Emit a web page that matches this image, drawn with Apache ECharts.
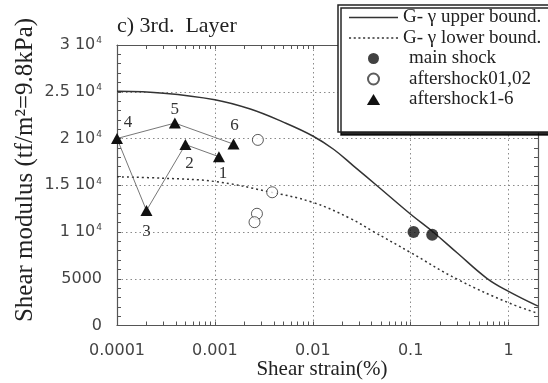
<!DOCTYPE html>
<html><head><meta charset="utf-8">
<script src="https://cdn.jsdelivr.net/npm/echarts@6/dist/echarts.min.js"></script>
<style>html,body{margin:0;padding:0;background:#fff}#c{width:548px;height:383px}</style>
</head><body><div id="c"></div>
<script>
// ---- data ----
const xTickValues = [0.0001, 0.001, 0.01, 0.1, 1];
const xTickLabels = ['0.0001', '0.001', '0.01', '0.1', '1'];
const yTickValues = [0, 5000, 10000, 15000, 20000, 25000, 30000];
const yTickLabels = ['0', '5000', '1 10^4', '1.5 10^4', '2 10^4', '2.5 10^4', '3 10^4'];

const upperStrain = [0.0001, 0.0003, 0.001, 0.0023, 0.005, 0.01, 0.0163, 0.0262, 0.0454, 0.1, 0.172, 0.3, 0.6, 1, 2];
const upperG      = [25050, 24850, 24150, 23150, 21750, 20270, 18850, 17050, 14950, 11900, 9950, 7750, 5050, 3650, 2070];

const lowerStrain = [0.0001, 0.0003, 0.001, 0.0034, 0.01, 0.0242, 0.04, 0.1, 0.3, 1, 2];
const lowerG      = [15900, 15750, 15400, 14350, 13170, 11450, 10150, 7800, 4940, 2430, 1300];

const mainStrain = [0.107, 0.166];
const mainG      = [10000, 9700];

const after0102Strain = [0.00275, 0.00385, 0.00269, 0.00254];
const after0102G      = [19850, 14250, 11950, 11050];

const after16Strain = [0.0011, 0.0005, 0.0002, 0.0001, 0.00039, 0.00155];
const after16G      = [18050, 19350, 12300, 20000, 21650, 19400];
const after16Labels = ['1', '2', '3', '4', '5', '6'];

const nameUpper = 'G- \u03b3 upper bound.';
const nameLower = 'G- \u03b3 lower bound.';
const nameMain = 'main shock';
const nameA0102 = 'aftershock01,02';
const nameA16 = 'aftershock1-6';

// ---- styling helpers (not data) ----
const labelOffsets = [[4, 17], [4, 19], [0, 21], [11, -16], [0, -14], [1, -19]];
const xMinMax = [0.0001, 2];
const xTickMarks = [];
[0.0001, 0.001, 0.01, 0.1, 1].forEach(d => {
  for (let m = 1; m <= 9; m++) {
    const v = parseFloat((m * d).toPrecision(6));
    if (v <= 2) xTickMarks.push(v);
  }
});
const solidIcon = 'path://M0,0h49v1.5h-49z';
let dotted = 'path://';
for (let x = 0; x < 49; x += 4.5) dotted += 'M' + x + ',0h2v1.5h-2z';
const triIcon = 'path://M6,0L12,10L0,10Z';

const zip = (a, b) => a.map((v, i) => [v, b[i]]);
const axisColor = '#555';
const gridLine = { show: true, lineStyle: { color: '#8a8a8a', type: [1.5, 3], width: 1 } };
const tickFont = { fontFamily: 'DejaVu Sans', fontSize: 16, color: '#444' };
const serif = 'Liberation Serif';

function xLabel(v) {
  for (let i = 0; i < xTickValues.length; i++) {
    if (Math.abs(Math.log10(v) - Math.log10(xTickValues[i])) < 1e-6) return xTickLabels[i];
  }
  return '';
}
function yLabel(v) {
  const i = yTickValues.indexOf(v);
  if (i < 0) return '';
  const s = yTickLabels[i];
  const p = s.indexOf('^');
  if (p < 0) return '{n|' + s + '}';
  return '{n|' + s.slice(0, p) + '}{s|' + s.slice(p + 1) + '}';
}

const chart = echarts.init(document.getElementById('c'), null, { renderer: 'canvas' });
chart.setOption({
  animation: false,
  backgroundColor: '#fff',
  grid: { left: 117, right: 10, top: 45, bottom: 57.5 },
  xAxis: [
    {
      type: 'log', logBase: 10, min: xMinMax[0], max: xMinMax[1], position: 'bottom',
      axisLine: { show: true, lineStyle: { color: axisColor, width: 1.2 } },
      axisTick: { show: false },
      axisLabel: Object.assign({ margin: 17, formatter: xLabel }, tickFont),
      splitLine: gridLine, minorTick: { show: false }
    },
    {
      type: 'log', logBase: 10, min: xMinMax[0], max: xMinMax[1], position: 'bottom',
      axisLine: { show: false },
      axisTick: { show: true, inside: true, length: 4, customValues: xTickMarks, lineStyle: { color: axisColor } },
      axisLabel: { show: false }, splitLine: { show: false }
    },
    {
      type: 'log', logBase: 10, min: xMinMax[0], max: xMinMax[1], position: 'top',
      axisLine: { show: true, lineStyle: { color: axisColor, width: 1.2 } },
      axisTick: { show: true, inside: true, length: 4, customValues: xTickMarks, lineStyle: { color: axisColor } },
      axisLabel: { show: false }, splitLine: { show: false }
    }
  ],
  yAxis: [
    {
      type: 'value', min: 0, max: 30000, interval: 5000, position: 'left',
      axisLine: { show: true, lineStyle: { color: axisColor, width: 1.2 } },
      axisTick: { show: true, inside: true, length: 4, lineStyle: { color: axisColor } },
      minorTick: { show: true, splitNumber: 5, length: 4, lineStyle: { color: axisColor } },
      axisLabel: {
        margin: 15, formatter: yLabel,
        rich: {
          n: { fontFamily: 'DejaVu Sans', fontSize: 16, color: '#444' },
          s: { fontFamily: 'DejaVu Sans', fontSize: 9, color: '#444', verticalAlign: 'top', padding: [0, 0, 8, 1] }
        }
      },
      splitLine: gridLine
    },
    {
      type: 'value', min: 0, max: 30000, interval: 5000, position: 'right',
      axisLine: { show: true, lineStyle: { color: axisColor, width: 1.2 } },
      axisTick: { show: true, inside: true, length: 4, lineStyle: { color: axisColor } },
      minorTick: { show: true, splitNumber: 5, length: 4, lineStyle: { color: axisColor } },
      axisLabel: { show: false }, splitLine: { show: false }
    }
  ],
  legend: {
    orient: 'vertical', left: 338, top: 5,
    padding: [3, 28, 23, 11],
    itemWidth: 49, itemHeight: 11, itemGap: 1.5,
    backgroundColor: '#fff', borderColor: '#222', borderWidth: 1.5,
    shadowColor: 'rgba(0,0,0,0.85)', shadowBlur: 0, shadowOffsetX: 3, shadowOffsetY: 3,
    selectedMode: false,
    textStyle: {
      fontFamily: serif, fontSize: 19, color: '#222',
      rich: { p: { fontFamily: serif, fontSize: 19, color: '#222', padding: [0, 0, 0, 6] } }
    },
    formatter: n => (n === nameUpper || n === nameLower) ? n : '{p|' + n + '}',
    data: [
      { name: nameUpper, icon: solidIcon },
      { name: nameLower, icon: dotted },
      { name: nameMain, icon: 'circle' },
      { name: nameA0102, icon: 'circle' },
      { name: nameA16, icon: triIcon }
    ]
  },
  graphic: [
    { type: 'text', x: 117, y: 26, style: { text: 'c) 3rd.  Layer', font: '22px "Liberation Serif"', fill: '#222', align: 'left', verticalAlign: 'middle' } },
    { type: 'text', x: 322, y: 369, style: { text: 'Shear strain(%)', font: '21px "Liberation Serif"', fill: '#222', align: 'center', verticalAlign: 'middle' } },
    { type: 'text', x: 25, y: 170, rotation: Math.PI / 2, style: { text: 'Shear modulus (tf/m\u00b2=9.8kPa)', font: '25px "Liberation Serif"', fill: '#222', align: 'center', verticalAlign: 'middle' } }
  ],
  series: [
    {
      name: nameUpper, type: 'line', data: zip(upperStrain, upperG), symbol: 'none', smooth: 0.4,
      color: '#333', lineStyle: { color: '#333', width: 1.5 }, z: 3
    },
    {
      name: nameLower, type: 'line', data: zip(lowerStrain, lowerG), symbol: 'none', smooth: 0.4,
      color: '#333', lineStyle: { color: '#333', width: 1.5, type: [2, 3] }, z: 3
    },
    {
      name: nameMain, type: 'scatter', data: zip(mainStrain, mainG), symbol: 'circle', symbolSize: 12,
      itemStyle: { color: '#111' }, z: 5
    },
    {
      name: nameA0102, type: 'scatter', data: zip(after0102Strain, after0102G), symbol: 'circle', symbolSize: 11,
      itemStyle: { color: '#fff', borderColor: '#333', borderWidth: 1 }, z: 5
    },
    {
      name: nameA16, type: 'line', symbol: 'triangle', symbolSize: [12, 11], showAllSymbol: true,
      data: after16Strain.map((s, i) => ({
        value: [s, after16G[i]],
        label: { show: true, position: 'inside', offset: labelOffsets[i], formatter: after16Labels[i] }
      })),
      color: '#111', itemStyle: { color: '#111' },
      lineStyle: { color: '#777', width: 1 },
      label: { fontFamily: serif, fontSize: 17, color: '#333' },
      z: 4
    }
  ]
});
</script></body></html>
